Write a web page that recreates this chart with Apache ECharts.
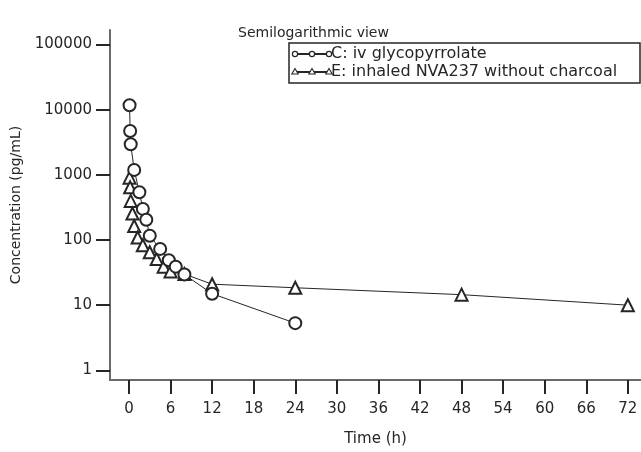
<!DOCTYPE html>
<html><head><meta charset="utf-8">
<script src="https://cdn.jsdelivr.net/npm/echarts@6/dist/echarts.min.js"></script>
<style>html,body{margin:0;padding:0;background:#fff}#c{width:641px;height:452px}</style>
</head><body><div id="c"></div>
<script>
var titleText = 'Semilogarithmic view';
var xName = 'Time (h)';
var yName = 'Concentration (pg/mL)';
var xTicks = [0, 6, 12, 18, 24, 30, 36, 42, 48, 54, 60, 66, 72];
var yTicks = [1, 10, 100, 1000, 10000, 100000];
var nameC = 'C: iv glycopyrrolate';
var timeC = [0.083, 0.167, 0.25, 0.75, 1.5, 2, 2.5, 3, 4.5, 5.75, 6.75, 8, 12, 24];
var valueC = [11700, 4700, 2950, 1190, 540, 300, 205, 116, 73, 49, 39, 29.5, 15, 5.3];
var nameE = 'E: inhaled NVA237 without charcoal';
var timeE = [0.083, 0.167, 0.25, 0.5, 0.75, 1.25, 2, 3, 4, 5, 6, 8, 12, 24, 48, 72];
var valueE = [906, 643, 398, 255, 164, 109, 83, 65, 51, 39, 33, 30, 21, 18.5, 14.5, 10];

function pairs(t, v) { return t.map(function (x, i) { return [x, v[i]]; }); }
var ink = '#262626';
var axisGrey = '#6a6a6a';
var font = 'DejaVu Sans';

var chart = echarts.init(document.getElementById('c'), null, {renderer: 'canvas'});
chart.setOption({
  animation: false,
  backgroundColor: '#fff',
  textStyle: {fontFamily: font, color: ink},
  title: {text: titleText, left: 233, top: 21, textStyle: {fontFamily: font, fontSize: 14, fontWeight: 'normal', color: ink}},
  grid: {left: 110, right: 0, top: 30, bottom: 60, containLabel: false},
  xAxis: {
    type: 'value', min: -2.74, max: 73.9,
    name: xName, nameLocation: 'middle', nameGap: 52,
    nameTextStyle: {fontFamily: font, fontSize: 15, color: ink},
    axisLine: {onZero: false, lineStyle: {color: axisGrey, width: 2}},
    axisTick: {customValues: xTicks, length: 14, lineStyle: {color: ink, width: 2}},
    axisLabel: {customValues: xTicks, margin: 22, fontFamily: font, fontSize: 15, color: ink},
    splitLine: {show: false}
  },
  yAxis: {
    type: 'log', logBase: 10, min: 0.711, max: 167000,
    name: yName, nameLocation: 'middle', nameGap: 78, nameRotate: 90,
    nameTextStyle: {fontFamily: font, fontSize: 14, color: ink},
    axisLine: {onZero: false, lineStyle: {color: axisGrey, width: 2}},
    axisTick: {customValues: yTicks, length: 14, lineStyle: {color: ink, width: 2}},
    axisLabel: {customValues: yTicks, margin: 18, fontFamily: font, fontSize: 15, color: ink,
      formatter: function (v) { return String(Math.round(v)); }},
    splitLine: {show: false}, minorTick: {show: false}
  },
  series: [
    {name: nameC, type: 'line', data: pairs(timeC, valueC), symbol: 'emptyCircle', symbolSize: 12,
     lineStyle: {color: ink, width: 1}, itemStyle: {color: ink, borderWidth: 1.2}, z: 3},
    {name: nameE, type: 'line', data: pairs(timeE, valueE), symbol: 'emptyTriangle', symbolSize: 12,
     lineStyle: {color: ink, width: 1}, itemStyle: {color: ink, borderWidth: 1.2}, z: 2}
  ],
  graphic: [
    {type: 'rect', shape: {x: 289, y: 43, width: 351, height: 40}, style: {fill: '#fff', stroke: ink, lineWidth: 1.5}, z: 10},
    {type: 'line', shape: {x1: 294, y1: 54, x2: 330, y2: 54}, style: {stroke: ink, lineWidth: 2}, z: 11},
    {type: 'circle', shape: {cx: 295, cy: 54, r: 2.6}, style: {fill: '#fff', stroke: ink, lineWidth: 1.2}, z: 12},
    {type: 'circle', shape: {cx: 312, cy: 54, r: 2.6}, style: {fill: '#fff', stroke: ink, lineWidth: 1.2}, z: 12},
    {type: 'circle', shape: {cx: 329, cy: 54, r: 2.6}, style: {fill: '#fff', stroke: ink, lineWidth: 1.2}, z: 12},
    {type: 'text', x: 331, y: 54, style: {text: nameC, font: '16px "DejaVu Sans"', fill: ink, textVerticalAlign: 'middle'}, z: 12},
    {type: 'line', shape: {x1: 294, y1: 72, x2: 330, y2: 72}, style: {stroke: ink, lineWidth: 2}, z: 11},
    {type: 'polygon', shape: {points: [[295, 68.5], [291.8, 74], [298.2, 74]]}, style: {fill: '#fff', stroke: ink, lineWidth: 1.1}, z: 12},
    {type: 'polygon', shape: {points: [[312, 68.5], [308.8, 74], [315.2, 74]]}, style: {fill: '#fff', stroke: ink, lineWidth: 1.1}, z: 12},
    {type: 'polygon', shape: {points: [[329, 68.5], [325.8, 74], [332.2, 74]]}, style: {fill: '#fff', stroke: ink, lineWidth: 1.1}, z: 12},
    {type: 'text', x: 331, y: 72, style: {text: nameE, font: '16px "DejaVu Sans"', fill: ink, textVerticalAlign: 'middle'}, z: 12}
  ]
});
</script>
</body></html>
